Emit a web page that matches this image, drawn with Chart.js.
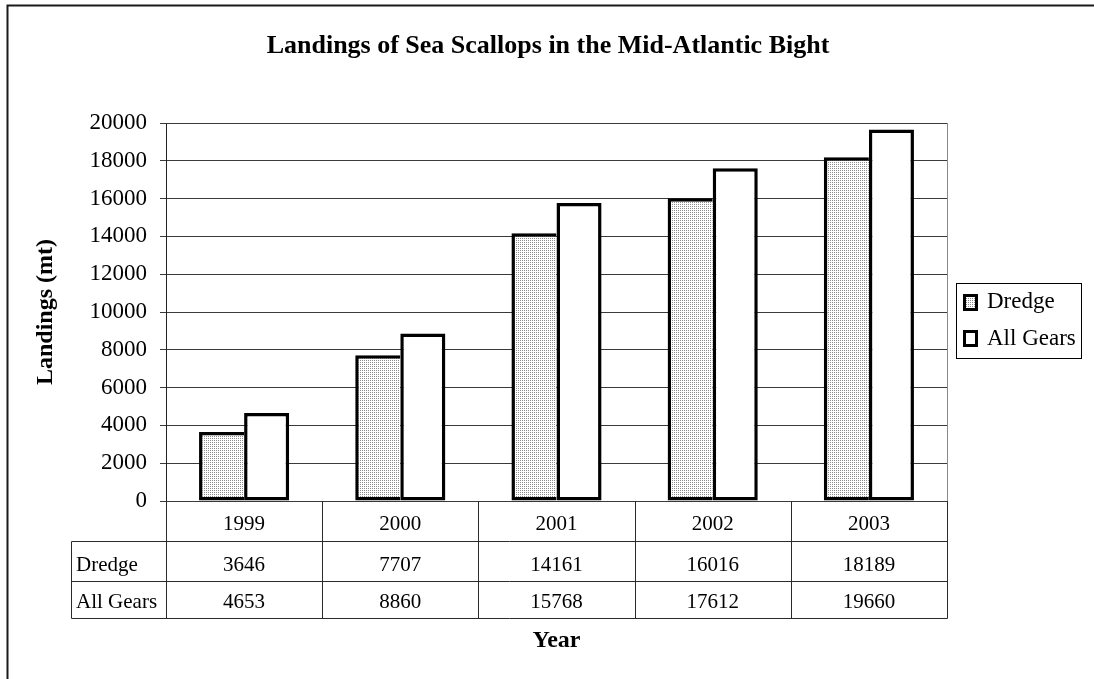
<!DOCTYPE html>
<html>
<head>
<meta charset="utf-8">
<title>Landings of Sea Scallops in the Mid-Atlantic Bight</title>
<script src="https://cdn.jsdelivr.net/npm/chart.js@4/dist/chart.umd.min.js"></script>
<style>
  html, body { margin: 0; padding: 0; background: #fff; }
  #wrap { width: 1094px; height: 679px; position: relative; }
  canvas { display: block; }
</style>
</head>
<body>
<div id="wrap"><canvas id="chart" width="1094" height="679"></canvas></div>
<script>
// Landings (metric tons) by year
const years = ['1999', '2000', '2001', '2002', '2003'];
const dredge = [3646, 7707, 14161, 16016, 18189];
const allGears = [4653, 8860, 15768, 17612, 19660];
const seriesNames = ['Dredge', 'All Gears'];
const yMin = 0;
const yMax = 20000;
const yStep = 2000;

const titleText = 'Landings of Sea Scallops in the Mid-Atlantic Bight';
const yTitleText = 'Landings (mt)';
const xTitleText = 'Year';

const SERIF = '"Liberation Serif", "Times New Roman", serif';

// Fine stippled fill for the dredge bars
function makeStipple() {
  const c = document.createElement('canvas');
  c.width = 2; c.height = 2;
  const g = c.getContext('2d');
  g.fillStyle = '#ffffff';
  g.fillRect(0, 0, 2, 2);
  g.fillStyle = '#8c8c8c';
  g.fillRect(0, 0, 1, 1);
  return g.createPattern(c, 'repeat');
}
const stipple = makeStipple();

// Title, axis titles, data table, legend and frame
const decorations = {
  id: 'decorations',
  afterDraw(chart) {
    const ctx = chart.ctx;
    const area = chart.chartArea;
    const xs = chart.scales.x;
    const n = years.length;
    const colW = (area.right - area.left) / n;

    ctx.save();

    // outer frame
    ctx.strokeStyle = '#1a1a1a';
    ctx.lineWidth = 2;
    ctx.strokeRect(7.5, 5.5, 1200, 800);

    // plot area right edge
    ctx.strokeStyle = '#8a8a8a';
    ctx.lineWidth = 1;
    ctx.beginPath();
    ctx.moveTo(Math.round(area.right) + 0.5, area.top);
    ctx.lineTo(Math.round(area.right) + 0.5, area.bottom);
    ctx.stroke();

    // chart title
    ctx.fillStyle = '#000';
    ctx.font = 'bold 26px ' + SERIF;
    ctx.textAlign = 'center';
    ctx.textBaseline = 'alphabetic';
    ctx.fillText(titleText, 548, 53);

    // y axis title
    ctx.save();
    ctx.translate(46, (area.top + area.bottom) / 2);
    ctx.rotate(-Math.PI / 2);
    ctx.font = 'bold 24px ' + SERIF;
    ctx.textAlign = 'center';
    ctx.textBaseline = 'middle';
    ctx.fillText(yTitleText, 0, 0);
    ctx.restore();

    // data table
    const tableLeft = 71;
    const r0 = area.bottom, r1 = 541, r2 = 581, r3 = 618;
    const right = Math.round(area.right) + 0.5;
    ctx.strokeStyle = '#2a2a2a';
    ctx.lineWidth = 1;
    ctx.beginPath();
    [r1, r2, r3].forEach(y => {
      ctx.moveTo(tableLeft + 0.5, y + 0.5);
      ctx.lineTo(right, y + 0.5);
    });
    ctx.moveTo(tableLeft + 0.5, r1 + 0.5);
    ctx.lineTo(tableLeft + 0.5, r3 + 0.5);
    for (let i = 0; i <= n; i++) {
      const cx = i < n ? xs.getPixelForValue(i) - colW / 2 : xs.getPixelForValue(n - 1) + colW / 2;
      const px = Math.round(cx) + 0.5;
      ctx.moveTo(px, r0);
      ctx.lineTo(px, r3 + 0.5);
    }
    ctx.stroke();

    ctx.fillStyle = '#000';
    ctx.font = '21px ' + SERIF;
    ctx.textBaseline = 'alphabetic';
    ctx.textAlign = 'center';
    for (let i = 0; i < n; i++) {
      const cx = xs.getPixelForValue(i);
      ctx.fillText(years[i], cx, 530);
      ctx.fillText(String(dredge[i]), cx, 571);
      ctx.fillText(String(allGears[i]), cx, 608);
    }
    ctx.textAlign = 'left';
    ctx.fillText(seriesNames[0], 76, 571);
    ctx.fillText(seriesNames[1], 76, 608);

    // x axis title
    ctx.font = 'bold 24px ' + SERIF;
    ctx.textAlign = 'center';
    ctx.fillText(xTitleText, (area.left + area.right) / 2, 647);

    // legend
    ctx.fillStyle = '#fff';
    ctx.fillRect(956, 283, 125, 75);
    ctx.strokeStyle = '#000';
    ctx.lineWidth = 1;
    ctx.strokeRect(956.5, 283.5, 125, 75);
    const swatches = [
      { fill: stipple, y: 294, label: seriesNames[0], base: 308 },
      { fill: '#fff', y: 330, label: seriesNames[1], base: 345 }
    ];
    swatches.forEach(s => {
      ctx.fillStyle = '#000';
      ctx.fillRect(963, s.y, 15, 17);
      ctx.fillStyle = s.fill;
      ctx.fillRect(966, s.y + 3, 9, 11);
      ctx.fillStyle = '#000';
      ctx.font = '23px ' + SERIF;
      ctx.textAlign = 'left';
      ctx.textBaseline = 'alphabetic';
      ctx.fillText(s.label, 987, s.base);
    });

    ctx.restore();
  }
};

new Chart(document.getElementById('chart'), {
  type: 'bar',
  data: {
    labels: years,
    datasets: [
      {
        label: seriesNames[0],
        data: dredge,
        backgroundColor: stipple,
        borderColor: '#000',
        // right edge is shared with the taller neighbouring bar
        borderWidth: { top: 3.5, right: 0, bottom: 3.5, left: 3.5 },
        borderSkipped: false,
        inflateAmount: 0
      },
      {
        label: seriesNames[1],
        data: allGears,
        backgroundColor: '#fff',
        borderColor: '#000',
        borderWidth: 3.5,
        borderSkipped: false,
        inflateAmount: 0
      }
    ]
  },
  options: {
    responsive: false,
    animation: false,
    events: [],
    categoryPercentage: 0.577,
    barPercentage: 1,
    layout: { padding: { left: 0, top: 123, right: 147, bottom: 178 } },
    plugins: {
      legend: { display: false },
      title: { display: false },
      tooltip: { enabled: false }
    },
    scales: {
      x: { display: false },
      y: {
        min: yMin,
        max: yMax,
        ticks: {
          stepSize: yStep,
          color: '#000',
          padding: 13,
          font: { family: SERIF, size: 23 },
          callback: (v) => String(v)
        },
        grid: { color: '#3a3a3a', lineWidth: 1, tickLength: 6, drawTicks: true },
        border: { display: true, color: '#222', width: 1 },
        afterFit(scale) { scale.width = 166; }
      }
    }
  },
  plugins: [decorations]
});
</script>
</body>
</html>
